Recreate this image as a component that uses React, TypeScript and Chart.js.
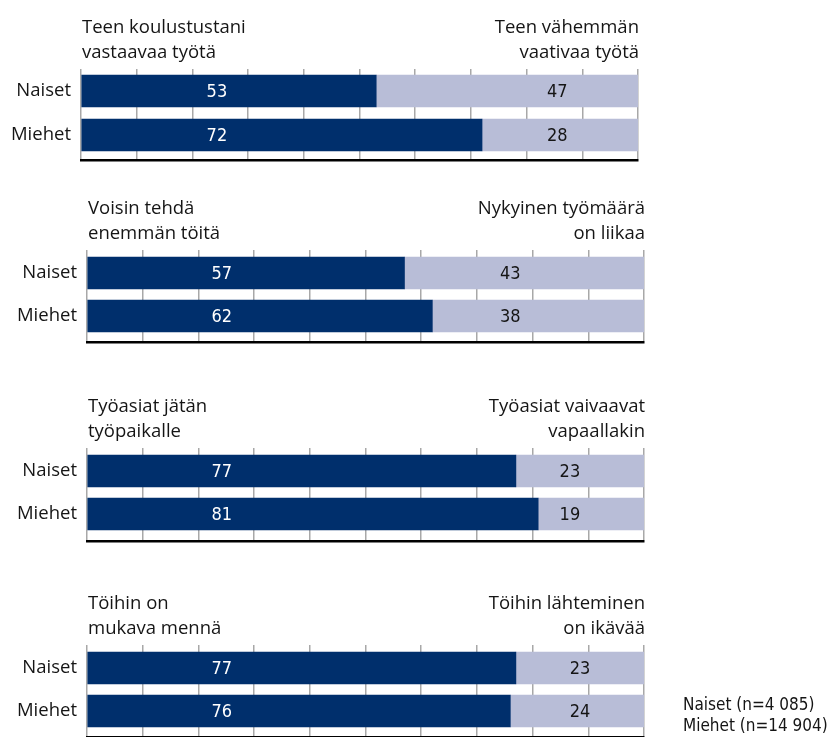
import React, { useEffect, useRef } from "react";
import { Chart, registerables } from "chart.js";

Chart.register(...registerables);

const categories = ["Naiset", "Miehet"];

const leftTitles = [
  ["Teen koulustustani", "vastaavaa työtä"],
  ["Voisin tehdä", "enemmän töitä"],
  ["Työasiat jätän", "työpaikalle"],
  ["Töihin on", "mukava mennä"],
];

const rightTitles = [
  ["Teen vähemmän", "vaativaa työtä"],
  ["Nykyinen työmäärä", "on liikaa"],
  ["Työasiat vaivaavat", "vapaallakin"],
  ["Töihin lähteminen", "on ikävää"],
];

const leftValues = [
  [53, 72],
  [57, 62],
  [77, 81],
  [77, 76],
];

const rightValues = [
  [47, 28],
  [43, 38],
  [23, 19],
  [23, 24],
];

const sampleNotes = ["Naiset (n=4 085)", "Miehet (n=14 904)"];

// layout / style (not data)
const DARK = "#002F6C";
const LIGHT = "#B8BDD7";
const GRID = "#A8A8A8";
const TEXT = "#151515";
const SANS = '"Open Sans", "Noto Sans", sans-serif';
const COND = '"DejaVu Sans Condensed", "Liberation Sans Narrow", sans-serif';
const PAD_TOP = 69;
const PAD_BOTTOM = 3;
const WIDTH = 827;

const panels = [
  { top: 0, left: 81, right: 638, gridH: 91, yMin: -0.5, yMax: 1.568, darkAt: 24.4, lightAt: 85.5 },
  { top: 181, left: 87, right: 644, gridH: 92, yMin: -0.535, yMax: 1.605, darkAt: 24.2, lightAt: 76 },
  { top: 379, left: 87, right: 644, gridH: 93, yMin: -0.535, yMax: 1.628, darkAt: 24.2, lightAt: 86.7 },
  { top: 576, left: 87, right: 644, gridH: 92, yMin: -0.535, yMax: 1.605, darkAt: 24.2, lightAt: 88.5 },
];

function Panel({ index }: { index: number }) {
  const ref = useRef<HTMLCanvasElement | null>(null);
  const p = panels[index];
  const height = PAD_TOP + p.gridH + PAD_BOTTOM;

  useEffect(() => {
    if (!ref.current) return;
    const textPlugin = {
      id: "panelText" + index,
      afterDatasetsDraw(chart: any) {
        const { ctx, chartArea, scales } = chart;
        ctx.save();
        // data labels
        ctx.font = "18px " + COND;
        ctx.textAlign = "center";
        ctx.textBaseline = "middle";
        [0, 1].forEach((d) => {
          const meta = chart.getDatasetMeta(d);
          const vals = d === 0 ? leftValues[index] : rightValues[index];
          meta.data.forEach((el: any, j: number) => {
            const x = scales.x.getPixelForValue(d === 0 ? p.darkAt : p.lightAt);
            ctx.fillStyle = d === 0 ? "#FFFFFF" : TEXT;
            ctx.fillText(String(vals[j]), x, el.y + 1);
          });
        });
        // titles
        ctx.font = "18.5px " + SANS;
        ctx.fillStyle = TEXT;
        ctx.textBaseline = "middle";
        ctx.textAlign = "left";
        ctx.fillText(leftTitles[index][0], chartArea.left + 1, chartArea.top - 41);
        ctx.fillText(leftTitles[index][1], chartArea.left + 1, chartArea.top - 16);
        ctx.textAlign = "right";
        ctx.fillText(rightTitles[index][0], chartArea.right + 1, chartArea.top - 41);
        ctx.fillText(rightTitles[index][1], chartArea.right + 1, chartArea.top - 16);
        // sample sizes
        if (index === panels.length - 1) {
          ctx.font = "17px " + COND;
          ctx.textAlign = "left";
          ctx.fillText(sampleNotes[0], 683, chartArea.bottom - 31);
          ctx.fillText(sampleNotes[1], 683, chartArea.bottom - 10);
        }
        ctx.restore();
      },
    };

    const toPoints = (vals: number[]) => vals.map((v, j) => ({ x: v, y: j }));

    const chart = new Chart(ref.current, {
      type: "bar",
      data: {
        datasets: [
          {
            data: toPoints(leftValues[index]),
            backgroundColor: DARK,
            borderWidth: 0,
            barThickness: 32,
          },
          {
            data: toPoints(rightValues[index]),
            backgroundColor: LIGHT,
            borderWidth: 0,
            barThickness: 32,
          },
        ],
      },
      options: {
        indexAxis: "y",
        responsive: false,
        animation: false,
        layout: {
          padding: { top: PAD_TOP, bottom: PAD_BOTTOM, left: 0, right: WIDTH - p.right },
        },
        plugins: {
          legend: { display: false },
          tooltip: { enabled: false },
        },
        scales: {
          x: {
            type: "linear",
            stacked: true,
            min: 0,
            max: 100,
            ticks: { display: false, stepSize: 10 },
            grid: { color: GRID, lineWidth: 1.5, drawTicks: false },
            border: { display: true, color: "#000000", width: 2.5 },
            afterFit: (s: any) => {
              s.height = 0;
              s.paddingLeft = 0;
              s.paddingRight = 0;
            },
          },
          y: {
            type: "linear",
            stacked: true,
            reverse: true,
            offset: false,
            min: p.yMin,
            max: p.yMax,
            grid: { display: false, drawTicks: false, offset: false },
            border: { display: false },
            afterBuildTicks: (s: any) => {
              s.ticks = categories.map((_, j) => ({ value: j }));
            },
            ticks: {
              color: TEXT,
              padding: 10,
              font: { family: SANS, size: 18.5 },
              callback: (v: any) => categories[Number(v)] ?? "",
            },
            afterFit: (s: any) => {
              s.width = p.left;
              s.paddingTop = 0;
              s.paddingBottom = 0;
            },
          },
        },
      },
      plugins: [textPlugin],
    });
    return () => chart.destroy();
  }, [index]);

  return (
    <canvas
      ref={ref}
      width={WIDTH}
      height={height}
      style={{ position: "absolute", left: 0, top: p.top, width: WIDTH, height }}
    />
  );
}

export default function App() {
  return (
    <div
      style={{
        position: "fixed",
        left: 0,
        top: 0,
        width: WIDTH,
        height: 737,
        overflow: "hidden",
        background: "#FFFFFF",
      }}
    >
      {panels.map((_, i) => (
        <Panel key={i} index={i} />
      ))}
    </div>
  );
}
